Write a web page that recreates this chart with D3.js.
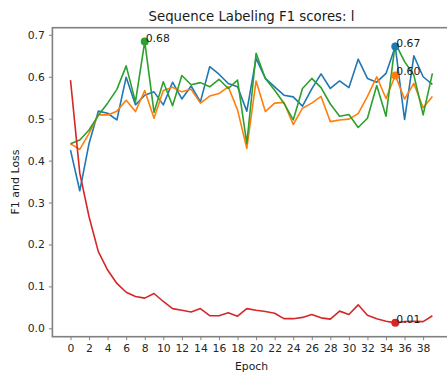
<!DOCTYPE html>
<html>
<head>
<meta charset="utf-8">
<script src="https://cdn.jsdelivr.net/npm/d3@7"></script>
<style>
  body { margin: 0; background: #fff; }
  text { font-family: "DejaVu Sans", sans-serif; }
</style>
</head>
<body>
<svg id="chart" width="447" height="374"></svg>
<script>
const epochs = d3.range(0, 40);
const xTicks = d3.range(0, 40, 2);
const yTicks = [0, 0.1, 0.2, 0.3, 0.4, 0.5, 0.6, 0.7];

const blue = [0.425, 0.328, 0.441, 0.518, 0.513, 0.497, 0.599, 0.533, 0.556, 0.564,
  0.533, 0.587, 0.547, 0.578, 0.540, 0.624, 0.606, 0.584, 0.576, 0.518,
  0.644, 0.596, 0.576, 0.556, 0.552, 0.530, 0.571, 0.607, 0.572, 0.590,
  0.574, 0.642, 0.596, 0.587, 0.608, 0.672, 0.498, 0.650, 0.600, 0.582];
const orange = [0.440, 0.427, 0.465, 0.509, 0.509, 0.518, 0.544, 0.517, 0.567, 0.501,
  0.567, 0.575, 0.564, 0.570, 0.537, 0.554, 0.560, 0.576, 0.521, 0.429,
  0.590, 0.517, 0.537, 0.539, 0.486, 0.525, 0.537, 0.553, 0.493, 0.497,
  0.499, 0.512, 0.553, 0.600, 0.548, 0.603, 0.547, 0.584, 0.526, 0.553];
const green = [0.440, 0.449, 0.473, 0.508, 0.537, 0.570, 0.626, 0.540, 0.684, 0.515,
  0.588, 0.531, 0.603, 0.581, 0.586, 0.576, 0.594, 0.572, 0.592, 0.441,
  0.656, 0.596, 0.568, 0.537, 0.497, 0.572, 0.596, 0.574, 0.535, 0.506,
  0.510, 0.479, 0.501, 0.579, 0.506, 0.680, 0.636, 0.604, 0.509, 0.608];
const loss = [0.592, 0.370, 0.266, 0.183, 0.139, 0.107, 0.086, 0.076, 0.072, 0.083,
  0.064, 0.047, 0.043, 0.039, 0.047, 0.030, 0.030, 0.037, 0.029, 0.047,
  0.043, 0.040, 0.036, 0.023, 0.023, 0.026, 0.033, 0.025, 0.022, 0.041,
  0.033, 0.056, 0.031, 0.023, 0.017, 0.013, 0.016, 0.017, 0.016, 0.030];

// marked points: [series, epoch, colour]
const marks = [[green, 8, '#2ca02c'], [blue, 35, '#1f77b4'], [orange, 35, '#ff7f0e'], [loss, 35, '#d62728']];

const svg = d3.select('#chart');
const x = d3.scaleLinear().domain([-1.95, 40.95]).range([52.4, 450.5]);
const y = d3.scaleLinear().domain([-0.02, 0.717]).range([336.7, 27.7]);

const spine = '#808080';

// axes
const xAxis = svg.append('g')
  .attr('transform', `translate(0,${y.range()[0]})`)
  .call(d3.axisBottom(x).tickValues(xTicks).tickSize(3.5).tickPadding(4).tickFormat(d3.format('d')));
const yAxis = svg.append('g')
  .attr('transform', `translate(${x.range()[0]},0)`)
  .call(d3.axisLeft(y).tickValues(yTicks).tickSize(3.5).tickPadding(4).tickFormat(d3.format('.1f')));
[xAxis, yAxis].forEach(a => {
  a.select('.domain').remove();
  a.selectAll('.tick line').attr('stroke', spine).attr('stroke-width', 1);
  a.selectAll('.tick text').attr('fill', '#262626').style('font-size', '10.8px')
    .style('font-family', '"DejaVu Sans", sans-serif');
});

// lines
const line = d3.line().x((d, i) => x(epochs[i])).y(d => y(d));
[[blue, '#1f77b4'], [orange, '#ff7f0e'], [green, '#2ca02c'], [loss, '#d62728']].forEach(([s, c]) => {
  svg.append('path').datum(s)
    .attr('fill', 'none').attr('stroke', c).attr('stroke-width', 1.6)
    .attr('stroke-linejoin', 'round')
    .attr('d', line);
});

// highlighted points
marks.forEach(([s, e, c]) => {
  svg.append('circle').attr('cx', x(e)).attr('cy', y(s[e])).attr('r', 4).attr('fill', c);
  svg.append('text').attr('x', x(e) + 1).attr('y', y(s[e]))
    .attr('fill', '#1a1a1a').style('font-size', '10.8px')
    .text(s[e].toFixed(2));
});

// frame
svg.append('rect')
  .attr('x', x.range()[0]).attr('y', y.range()[1])
  .attr('width', x.range()[1] - x.range()[0]).attr('height', y.range()[0] - y.range()[1])
  .attr('fill', 'none').attr('stroke', spine).attr('stroke-width', 1.6);

// labels
svg.append('text').attr('x', 251.5).attr('y', 21).attr('text-anchor', 'middle')
  .attr('fill', '#1a1a1a').style('font-size', '13.3px')
  .text('Sequence Labeling F1 scores: l');
svg.append('text').attr('x', 251.5).attr('y', 370).attr('text-anchor', 'middle')
  .attr('fill', '#1a1a1a').style('font-size', '10.8px').text('Epoch');
svg.append('text').attr('transform', 'translate(18.5,182) rotate(-90)').attr('text-anchor', 'middle')
  .attr('fill', '#1a1a1a').style('font-size', '11px').text('F1 and Loss');
</script>
</body>
</html>
